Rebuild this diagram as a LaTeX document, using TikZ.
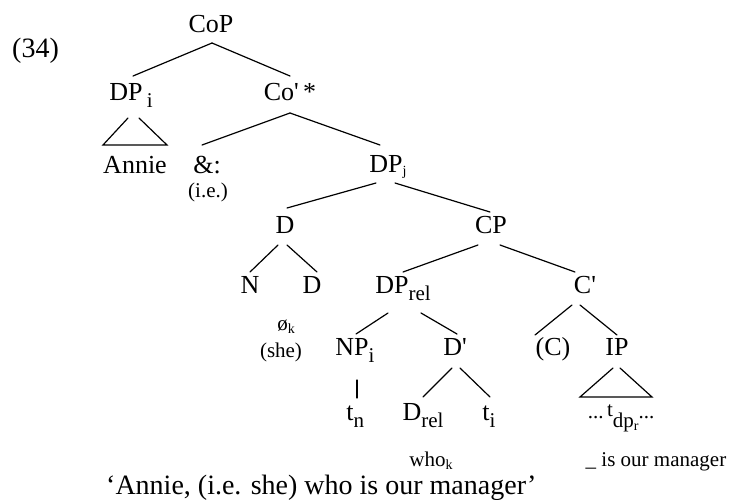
\documentclass[tikz,border=0pt]{standalone}
\usepackage{fontspec}
\setmainfont{Liberation Serif}
% font sizes used in the tree
\newcommand\lblfont{\fontsize{26}{30}\selectfont}
\newcommand\smlfont{\fontsize{21}{25}\selectfont}
\newcommand\bigfont{\fontsize{28}{32}\selectfont}
% lowered subscripts: large ones for labels, tiny ones for indices
\newcommand\lsub[1]{\raisebox{-7pt}{\fontsize{21}{23}\selectfont #1}}
\newcommand\tsub[1]{\raisebox{-3pt}{\fontsize{14}{16}\selectfont #1}}
\newcommand\pr{\textquotesingle}

\begin{document}
\begin{tikzpicture}[x=1pt,y=-1pt,
  lab/.style={anchor=base,inner sep=0pt,font=\lblfont},
  sm/.style={anchor=base,inner sep=0pt,font=\smlfont},
  branch/.style={line width=1.2pt,line cap=round}]
\useasboundingbox (0,0) rectangle (739,499);

% example number
\node[anchor=base west,inner sep=0pt,font=\bigfont] (ex) at (12,57) {(34)};

% nodes
\node[lab] (CoP)   at (211,32)  {CoP};
\node[lab] (DPi)   at (126,100) {DP\rlap{\,\lsub{i}}};
\node[lab] (Co)    at (290,100) {Co\pr\,*};
\node[lab] (Annie) at (135,173) {Annie};
\node[lab] (amp)   at (207,173) {\&:};
\node[sm]  (ie)    at (208,197) {(i.e.)};
\node[lab] (DPj)   at (386,172) {DP\rlap{\tsub{j}}};
\node[lab] (D)     at (285,233) {D};
\node[lab] (CP)    at (491,233) {CP};
\node[lab] (N)     at (250,293) {N};
\node[lab] (Dn)    at (312,293) {D};
\node[sm]  (null)  at (286,330) {ø\tsub{k}};
\node[sm]  (she)   at (281,357) {(she)};
\node[lab] (DPrel) at (392,293) {DP\rlap{\lsub{rel}}};
\node[lab] (Cbar)  at (585,293) {C\pr};
\node[lab] (NP)    at (352,355) {NP\rlap{\lsub{i}}};
\node[lab] (Dbar)  at (455,355) {D\pr};
\node[lab] (C)     at (553,355) {(C)};
\node[lab] (IP)    at (617,355) {IP};
\node[lab] (tn)    at (350,420) {t\rlap{\lsub{n}}};
\node[lab] (Drel)  at (412,420) {D\rlap{\lsub{rel}}};
\node[lab] (ti)    at (486,420) {t\rlap{\lsub{i}}};
\node[sm]  (tdp)   at (621,420) {\raisebox{2pt}{...}\,\raisebox{4pt}{t}\lsub{dp\tsub{r}}\raisebox{2pt}{...}};
\node[sm]  (who)   at (431,466) {who\tsub{k}};
\node[sm]  (mgr)   at (656,466) {\_ is our manager};
\node[anchor=base west,inner sep=0pt,font=\bigfont] (gloss) at (106,494)
  {‘Annie, (i.e. she) who is our manager’};

% branches
\draw[branch] ([shift={(1,11)}]CoP.base) -- ([shift={(7,-24)}]DPi.base);
\draw[branch] ([shift={(1,11)}]CoP.base) -- ([shift={(0,-24)}]Co.base);

\draw[branch] ([shift={(2,18)}]DPi.base) -- ([shift={(-32,-28)}]Annie.base)
              -- ([shift={(32,-28)}]Annie.base) -- ([shift={(13,18)}]DPi.base);

\draw[branch] ([shift={(0,13)}]Co.base) -- ([shift={(-5,-28)}]amp.base);
\draw[branch] ([shift={(0,13)}]Co.base) -- ([shift={(-6,-27)}]DPj.base);

\draw[branch] ([shift={(-10,11)}]DPj.base) -- ([shift={(2,-25)}]D.base);
\draw[branch] ([shift={(9,11)}]DPj.base) -- ([shift={(-1,-21)}]CP.base);

\draw[branch] ([shift={(-7,12)}]D.base) -- ([shift={(0,-21)}]N.base);
\draw[branch] ([shift={(2,12)}]D.base) -- ([shift={(5,-21)}]Dn.base);

\draw[branch] ([shift={(-13,12)}]CP.base) -- ([shift={(11,-21)}]DPrel.base);
\draw[branch] ([shift={(9,12)}]CP.base) -- ([shift={(-10,-21)}]Cbar.base);

\draw[branch] ([shift={(-4,20)}]DPrel.base) -- ([shift={(4,-21)}]NP.base);
\draw[branch] ([shift={(29,20)}]DPrel.base) -- ([shift={(2,-21)}]Dbar.base);

\draw[branch] ([shift={(-13,12)}]Cbar.base) -- ([shift={(-18,-20)}]C.base);
\draw[branch] ([shift={(-5,12)}]Cbar.base) -- ([shift={(0,-20)}]IP.base);

\draw[branch] ([shift={(5,25)}]NP.base) -- ([shift={(7,-22)}]tn.base);

\draw[branch] ([shift={(-3,13)}]Dbar.base) -- ([shift={(11,-23)}]Drel.base);
\draw[branch] ([shift={(5,13)}]Dbar.base) -- ([shift={(4,-23)}]ti.base);

\draw[branch] ([shift={(-4,13)}]IP.base) -- ([shift={(-41,-23)}]tdp.base)
              -- ([shift={(31,-23)}]tdp.base) -- ([shift={(3,13)}]IP.base);
\end{tikzpicture}
\end{document}
